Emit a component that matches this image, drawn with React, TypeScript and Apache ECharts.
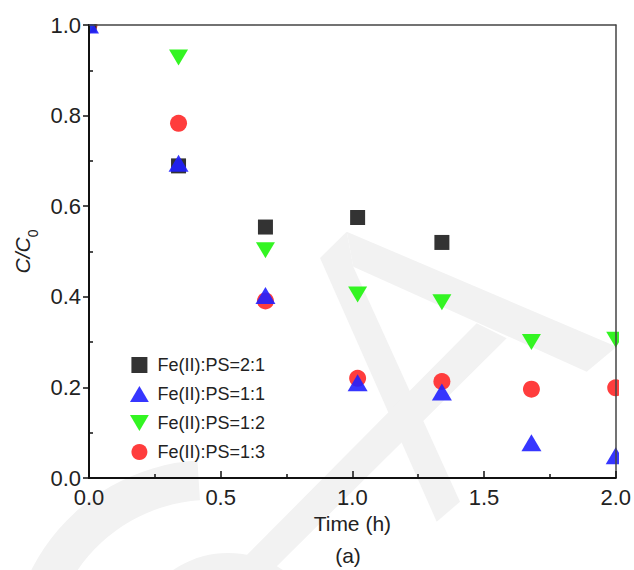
import React, { useEffect, useRef } from 'react';
import * as echarts from 'echarts';

// ---- data ----
const times = [0, 0.34, 0.67, 1.02, 1.34, 1.68, 2.0];
const ratio21 = [1.0, 0.689, 0.554, 0.575, 0.52];
const ratio11 = [1.0, 0.695, 0.403, 0.21, 0.19, 0.078, 0.049];
const ratio12 = [1.0, 0.928, 0.503, 0.405, 0.388, 0.3, 0.305];
const ratio13 = [1.0, 0.783, 0.391, 0.22, 0.213, 0.196, 0.199];
const seriesNames = ['Fe(II):PS=2:1', 'Fe(II):PS=1:1', 'Fe(II):PS=1:2', 'Fe(II):PS=1:3'];
const xRange = [0, 2];
const yRange = [0, 1];
const xStep = 0.5;
const yStep = 0.2;

const FONT = '"Liberation Sans", Arial, sans-serif';
const TXT = '#222';
const WM = '#f2f2f2';

const toPts = (vals: number[]) => vals.map((v, i) => [times[i], v]);

export default function App() {
  const ref = useRef<HTMLDivElement>(null);
  useEffect(() => {
    if (!ref.current) return;
    const chart = echarts.init(ref.current, null, { renderer: 'svg' });
    const grid = { left: 89, right: 16, top: 25, bottom: 92 };
    const fmt = (v: number) => v.toFixed(1);
    const baseX = { type: 'value', min: xRange[0], max: xRange[1], interval: xStep, gridIndex: 0 };
    const baseY = { type: 'value', min: yRange[0], max: yRange[1], interval: yStep, gridIndex: 0 };
    const hidden = {
      axisLabel: { show: false },
      splitLine: { show: false },
    };
    chart.setOption({
      animation: false,
      backgroundColor: '#fff',
      grid: { ...grid, show: false },
      graphic: [
        // watermark
        { type: 'sector', z: -10, shape: { cx: 210, cy: 660, r0: 160, r: 200, startAngle: Math.PI * 0.9, endAngle: Math.PI * 1.48 }, style: { fill: WM } },
        { type: 'ring', z: -10, shape: { cx: 228, cy: 650, r0: 60, r: 97 }, style: { fill: WM } },
        { type: 'polygon', z: -10, shape: { points: [[346.7, 231.7], [320, 258], [436.7, 521.7], [460, 501.7], [353.3, 266.7]] }, style: { fill: WM } },
        { type: 'polygon', z: -10, shape: { points: [[346.7, 231.7], [616.7, 346.7], [586.7, 371.7], [353.3, 266.7]] }, style: { fill: WM } },
        { type: 'polygon', z: -10, shape: { points: [[232, 570], [476.7, 323.3], [506.7, 338.3], [273, 570]] }, style: { fill: WM } },
        // clipping masks outside the plot frame
        { type: 'rect', z: 5, shape: { x: 0, y: 0, width: 634, height: 24 }, style: { fill: '#fff' } },
        { type: 'rect', z: 5, shape: { x: 619, y: 0, width: 15, height: 570 }, style: { fill: '#fff' } },
        { type: 'rect', z: 5, shape: { x: 60, y: 0, width: 28, height: 60 }, style: { fill: '#fff' } },
        { type: 'text', z: 10, x: 348, y: 555, style: { text: '(a)', fontSize: 21, fontFamily: FONT, fill: TXT, align: 'center', verticalAlign: 'middle' } },
      ],
      legend: {
        orient: 'vertical',
        left: 125,
        top: 351,
        itemWidth: 20,
        itemHeight: 16,
        itemGap: 11,
        symbolKeepAspect: true,
        textStyle: { fontSize: 18, color: TXT, fontFamily: FONT, padding: [0, 0, 0, 3] },
        data: [
          { name: seriesNames[0], icon: 'path://M0,0L15,0L15,15L0,15Z' },
          { name: seriesNames[1], icon: 'path://M10,0L20,17L0,17Z' },
          { name: seriesNames[2], icon: 'path://M0,0L20,0L10,17Z' },
          { name: seriesNames[3], icon: 'circle' },
        ],
      },
      xAxis: [
        {
          ...baseX,
          position: 'bottom',
          z: 10,
          name: 'Time (h)',
          nameLocation: 'middle',
          nameGap: 34,
          nameTextStyle: { fontSize: 21, color: TXT, fontFamily: FONT },
          axisLine: { show: true, onZero: false, lineStyle: { color: '#111', width: 2 } },
          axisTick: { show: true, inside: true, length: 7, lineStyle: { color: '#111', width: 1.5 } },
          minorTick: { show: true, splitNumber: 2, length: 4, lineStyle: { color: '#111', width: 1.5 } },
          axisLabel: { fontSize: 22, color: TXT, fontFamily: FONT, margin: 8, formatter: fmt },
          splitLine: { show: false },
        },
        {
          ...baseX,
          position: 'top',
          z: 10,
          ...hidden,
          axisLine: { show: true, onZero: false, lineStyle: { color: '#444', width: 1.5 } },
          axisTick: { show: false },
        },
      ],
      yAxis: [
        {
          ...baseY,
          position: 'left',
          z: 10,
          name: '{i|C/C}{s|0}',
          nameLocation: 'middle',
          nameGap: 43,
          nameTextStyle: {
            rich: {
              i: { fontSize: 21, fontStyle: 'italic', fontFamily: FONT, color: TXT, lineHeight: 28, verticalAlign: 'top' },
              s: { fontSize: 14, fontFamily: FONT, color: TXT, lineHeight: 14, verticalAlign: 'bottom' },
            },
          },
          axisLine: { show: true, onZero: false, lineStyle: { color: '#111', width: 2 } },
          axisTick: { show: true, inside: false, length: 6, lineStyle: { color: '#111', width: 1.5 } },
          axisLabel: { fontSize: 22, color: TXT, fontFamily: FONT, margin: 8, formatter: fmt },
          splitLine: { show: false },
        },
        {
          ...baseY,
          position: 'left',
          z: 10,
          ...hidden,
          axisLine: { show: false, onZero: false },
          axisTick: { show: false, inside: true },
          minorTick: { show: true, splitNumber: 2, length: 4, lineStyle: { color: '#111', width: 1.5 } },
        },
        {
          ...baseY,
          position: 'right',
          z: 10,
          ...hidden,
          axisLine: { show: true, onZero: false, lineStyle: { color: '#444', width: 1.5 } },
          axisTick: { show: false },
        },
      ],
      series: [
        {
          name: seriesNames[3], type: 'scatter', z: 2, symbol: 'circle', symbolSize: 17,
          itemStyle: { color: '#ff3333', opacity: 0.95 }, data: toPts(ratio13),
        },
        {
          name: seriesNames[0], type: 'scatter', z: 2, symbol: 'rect', symbolSize: 15,
          itemStyle: { color: '#333333', opacity: 1 }, data: toPts(ratio21),
        },
        {
          name: seriesNames[2], type: 'scatter', z: 3, symbol: 'path://M0,0L20,0L10,17Z', symbolSize: [19, 16],
          itemStyle: { color: '#33f522', opacity: 1 }, data: toPts(ratio12),
        },
        {
          name: seriesNames[1], type: 'scatter', z: 4, symbol: 'triangle', symbolSize: [20, 17],
          itemStyle: { color: '#2020ff', opacity: 0.9 }, data: toPts(ratio11),
        },
      ],
    });
    return () => chart.dispose();
  }, []);
  return <div ref={ref} style={{ width: 634, height: 570, position: 'fixed', left: 0, top: 0 }} />;
}
